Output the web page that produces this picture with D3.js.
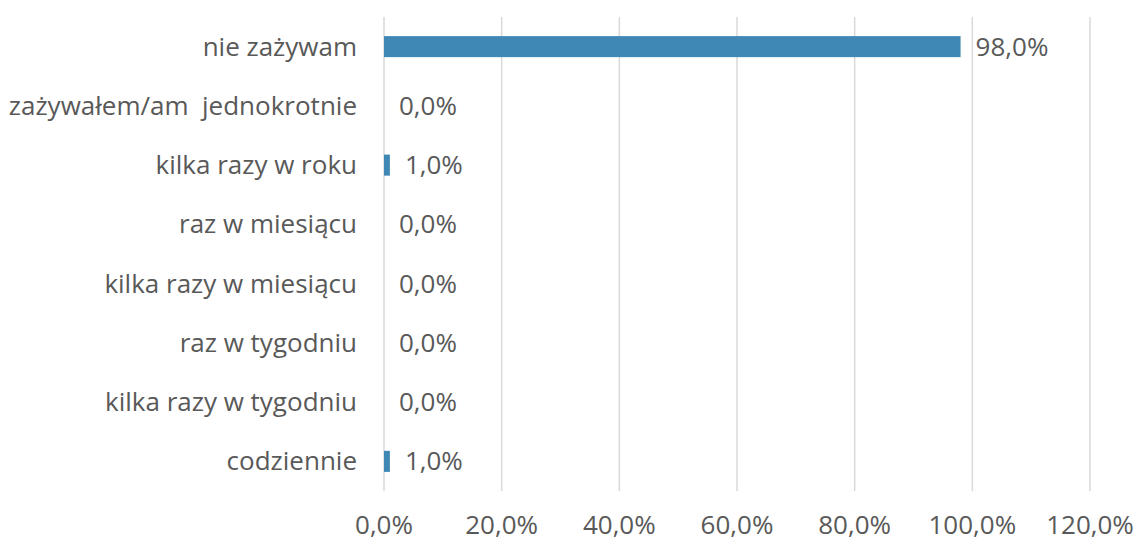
<!DOCTYPE html>
<html><head><meta charset="utf-8">
<script src="https://cdn.jsdelivr.net/npm/d3@7"></script>
<style>body{margin:0;background:#fff}svg{display:block}text{font-family:"Open Sans",sans-serif;fill:#595959;white-space:pre}</style>
</head><body>
<script>
const categories = ["nie zażywam","zażywałem/am  jednokrotnie","kilka razy w roku","raz w miesiącu","kilka razy w miesiącu","raz w tygodniu","kilka razy w tygodniu","codziennie"];
const values = [98.0, 0.0, 1.0, 0.0, 0.0, 0.0, 0.0, 1.0];
const ticks = [0, 20, 40, 60, 80, 100, 120];
const fmt = v => v.toFixed(1).replace(".", ",") + "%";

const W = 1137, H = 541;
const svg = d3.select("body").append("svg").attr("width", W).attr("height", H);
const x = d3.scaleLinear().domain([0, 120]).range([384, 1090]);
const y = d3.scaleBand().domain(categories).range([17, 491]).paddingInner(0.645).paddingOuter(0.3225);

svg.append("g").selectAll("line").data(ticks).join("line")
  .attr("x1", d => x(d)).attr("x2", d => x(d)).attr("y1", 17).attr("y2", 491)
  .attr("stroke", "#d9d9d9").attr("stroke-width", 1.5);

svg.append("g").selectAll("rect").data(values).join("rect")
  .attr("x", x(0)).attr("y", (d, i) => y(categories[i]))
  .attr("width", d => x(d) - x(0)).attr("height", y.bandwidth())
  .attr("fill", "#3f88b5");

svg.append("g").selectAll("text").data(values).join("text")
  .attr("x", d => x(d) + 15).attr("y", (d, i) => y(categories[i]) + y.bandwidth() / 2)
  .attr("dy", "0.35em").style("font-size", "26px").text(d => fmt(d));

svg.append("g").selectAll("text").data(categories).join("text")
  .attr("x", 357).attr("y", d => y(d) + y.bandwidth() / 2).attr("dy", "0.35em")
  .attr("text-anchor", "end").style("font-size", "26px").text(d => d);

svg.append("g").selectAll("text").data(ticks).join("text")
  .attr("x", d => x(d)).attr("y", 525).attr("dy", "0.35em")
  .attr("text-anchor", "middle").style("font-size", "26px").text(d => fmt(d));
</script>
</body></html>
